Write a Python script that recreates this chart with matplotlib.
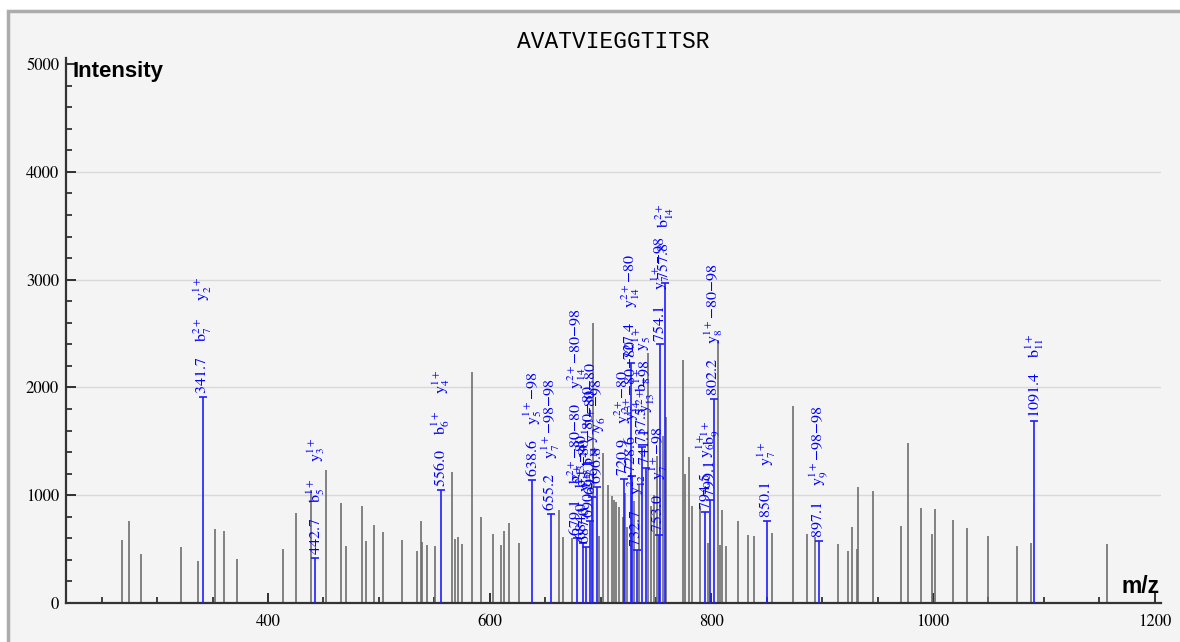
import matplotlib
matplotlib.use("Agg")
import matplotlib.pyplot as plt
from matplotlib.patches import Rectangle
from matplotlib.ticker import MultipleLocator

title = "AVATVIEGGTITSR"

# unannotated peaks (m/z, intensity)
gray_mz = [268.3, 274.9, 285.4, 321.2, 337.1, 352.2, 360.3, 372.3, 413.2, 425.0,
           438.5, 452.3, 465.6, 470.7, 484.5, 488.7, 495.4, 503.5, 520.6, 534.7,
           537.8, 538.9, 543.7, 550.7, 565.7, 569.0, 571.7, 574.8, 583.8, 591.9,
           602.7, 610.2, 613.2, 617.7, 626.5, 662.3, 665.9, 674.6, 693.5, 699.0,
           702.0, 707.0, 710.6, 712.2, 714.3, 716.3, 720.3, 721.7, 724.2, 730.0,
           735.0, 743.0, 745.5, 748.5, 751.0, 756.0, 759.5, 774.2, 776.3, 779.6,
           782.3, 789.8, 796.7, 806.3, 807.8, 809.9, 813.2, 823.7, 833.3, 838.2,
           855.0, 873.3, 886.7, 893.9, 914.3, 923.6, 926.6, 931.7, 932.6, 945.5,
           971.2, 977.8, 989.2, 999.4, 1001.8, 1018.3, 1030.3, 1049.6, 1075.5, 1088.4,
           1156.6]
gray_int = [584, 760, 451, 523, 390, 683, 668, 405, 501, 832,
            1050, 1234, 925, 529, 903, 578, 721, 656, 584, 480,
            757, 563, 535, 529, 1218, 594, 609, 544, 2145, 801,
            640, 538, 665, 745, 554, 860, 612, 600, 2600, 618,
            1388, 1095, 990, 958, 940, 887, 801, 1023, 708, 950,
            1100, 2320, 900, 1000, 1360, 1550, 1730, 2254, 1194, 1350,
            900, 900, 560, 2440, 538, 863, 532, 760, 630, 620,
            650, 1825, 640, 615, 547, 482, 702, 498, 1073, 1042,
            717, 1481, 884, 640, 872, 770, 699, 622, 529, 560,
            544]

# annotated peaks
ann_mz = [341.7, 442.7, 556.0, 638.6, 655.2, 679.1, 684.0, 687.0, 690.2, 692.1,
          696.8, 720.9, 727.4, 728.6, 732.7, 737.5, 741.1, 753.0, 754.1, 757.8,
          794.5, 799.1, 802.2, 850.1, 897.1, 1091.4]
ann_int = [1910, 420, 1048, 1141, 830, 600, 560, 520, 760, 980,
           1079, 1150, 2230, 1180, 490, 1450, 1250, 630, 2400, 2970,
           840, 960, 1890, 760, 575, 1690]
ann_text = [
    "341.7    b$^{2+}_{7}$    y$^{1+}_{2}$",
    "442.7    b$^{1+}_{5}$    y$^{1+}_{3}$",
    "556.0    b$^{1+}_{6}$    y$^{1+}_{4}$",
    "638.6    y$^{1+}_{5}$\u221298",
    "655.2    y$^{1+}_{7}$\u221298\u221298",
    "679.1    b$^{2+}_{13}$\u221280\u221280    y$^{2+}_{14}$\u221280\u221298",
    "684.0    b$^{2+}_{13}$\u221280",
    "687.0    y$^{2+}_{13}$\u221280",
    "690.2    b$^{2+}_{14}$\u221280\u221280",
    "692.1    y$^{1+}_{7}$\u221280\u221280",
    "696.8    y$^{1+}_{6}$\u221298",
    "720.9    y$^{2+}_{13}$\u221280",
    "727.4    y$^{2+}_{14}$\u221280",
    "728.6    y$^{2+}_{14}$\u221280\u221280",
    "732.7    y$^{2+}_{12}$",
    "737.5    b$^{1+}_{8}$    y$^{1+}_{5}$",
    "741.1    y$^{2+}_{13}$\u221298",
    "753.0    y$^{1+}_{7}$\u221298",
    "754.1    y$^{1+}_{7}$\u221298",
    "757.8    b$^{2+}_{14}$",
    "794.5    y$^{1+}_{6}$",
    "799.1    b$^{1+}_{9}$",
    "802.2    y$^{1+}_{8}$\u221280\u221298",
    "850.1    y$^{1+}_{7}$",
    "897.1    y$^{1+}_{9}$\u221298\u221298",
    "1091.4    b$^{1+}_{11}$",
]

plt.rcParams["mathtext.fontset"] = "stix"
plt.rcParams["font.family"] = ["STIXGeneral", "DejaVu Serif"]

W, H = 1180, 642
fig = plt.figure(figsize=(W / 100, H / 100), dpi=100)
fig.patch.set_facecolor("white")
fig.patches.append(Rectangle((8 / W, -0.1), 1.2, (H - 11) / H + 0.1,
                             transform=fig.transFigure, facecolor="#f4f4f4",
                             edgecolor="#acacac", lw=2.5, zorder=-10))

ax = fig.add_axes([66 / W, 39 / H, (1161 - 66) / W, (603 - 58) / H])
ax.set_facecolor("none")
ax.set_xlim(217.7, 1205.7)
ax.set_ylim(0, 5056)

blue = "#1f1fff"
ax.vlines(gray_mz, 0, gray_int, color="#6e6e6e", lw=1.2, zorder=2)
ax.vlines(ann_mz, 0, ann_int, color=blue, lw=1.2, zorder=3)
ax.plot(ann_mz, ann_int, ls="none", marker="_", ms=6, mew=1.2, color=blue, zorder=3)
for mz, h, t in zip(ann_mz, ann_int, ann_text):
    ax.annotate(t, (mz, h), xytext=(0, 2), textcoords="offset points",
                rotation=90, ha="center", va="bottom", fontsize=11.5,
                color="#0000ff", zorder=4)

for s in ["top", "right"]:
    ax.spines[s].set_visible(False)
for s in ["left", "bottom"]:
    ax.spines[s].set_color("#333333")
    ax.spines[s].set_linewidth(1.6)

ax.xaxis.set_major_locator(MultipleLocator(200))
ax.xaxis.set_minor_locator(MultipleLocator(50))
ax.yaxis.set_major_locator(MultipleLocator(1000))
ax.yaxis.set_minor_locator(MultipleLocator(200))
ax.tick_params(which="major", direction="in", length=7.5, width=1.3,
               color="#222222", labelsize=12, pad=5)
ax.tick_params(which="minor", direction="in", length=4.5, width=1.2, color="#222222")
ax.tick_params(axis="x", which="major", pad=8)

for yv in ax.get_yticks():
    if 0 < yv < 5000:
        ax.axhline(yv, color="#d9d9d9", lw=1, zorder=0)

ax.set_title(title, fontsize=16.5, family="Liberation Mono", pad=7)
ax.text(0.006, 0.994, "Intensity", transform=ax.transAxes, ha="left", va="top",
        fontsize=16, fontweight="bold", family="Liberation Sans")
ax.text(0.999, 0.009, "m/z", transform=ax.transAxes, ha="right", va="bottom",
        fontsize=16.5, fontweight="bold", family="Liberation Sans")

fig.savefig("out.png", dpi=100, facecolor=fig.get_facecolor())
